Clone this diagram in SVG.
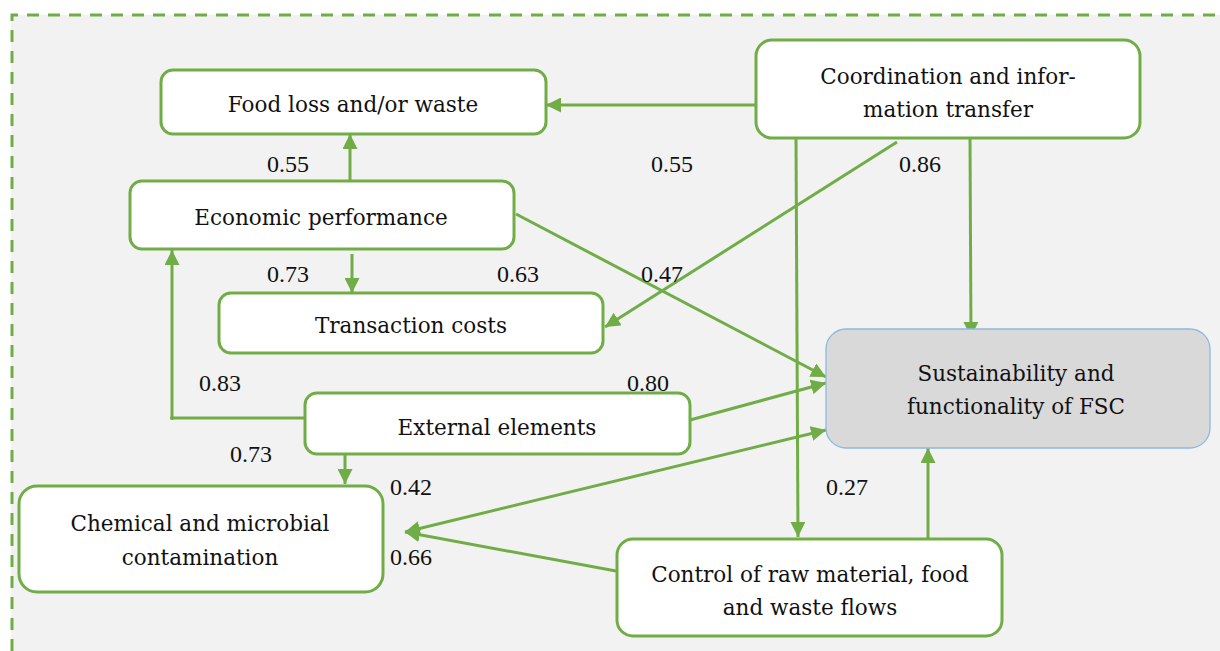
<svg xmlns="http://www.w3.org/2000/svg" width="1220" height="651" viewBox="0 0 1220 651">
<defs>
<marker id="ah" viewBox="0 0 10 10" refX="10" refY="5" markerWidth="15" markerHeight="15" markerUnits="userSpaceOnUse" orient="auto-start-reverse">
<path d="M0,0 L10,5 L0,10 z" fill="#70ad47"/>
</marker>
<style>
.box{fill:#ffffff;stroke:#70ad47;stroke-width:3}
.main{fill:#d9d9d9;stroke:#8fb8e0;stroke-width:1.3}
.t{font-size:21.5px;fill:#111;text-anchor:middle}
.n{font-size:24px;fill:#111;text-anchor:middle}
.c{fill:none;stroke:#70ad47;stroke-width:3}
.a{marker-end:url(#ah)}
</style>
</defs>
<rect x="11" y="15" width="1209" height="636" fill="#f2f2f2"/>
<path d="M12,651 L12,15 L1220,15" fill="none" stroke="#70ad47" stroke-width="3" stroke-dasharray="12 9"/>

<g id="connectors">
<path class="c a" d="M755,105 L546,105"/>
<path class="c a" d="M350,181 L350,134"/>
<path class="c a" d="M352,254 L352,293"/>
<path class="c a" d="M897,142 L605,327"/>
<path class="c a" d="M516,214 L826,377"/>
<path class="c a" d="M970,138 L971,337"/>
<path class="c a" d="M796,138 L798,537"/>
<path class="c a" d="M304,418 L172,418 L172,250"/>
<circle cx="172" cy="418" r="2" fill="#70ad47"/>
<path class="c a" d="M690,420 L826,383"/>
<path class="c a" d="M345,454 L345,484"/>
<path class="c a" d="M405,532 L826,430" marker-start="url(#ah)"/>
<path class="c a" d="M616,571 L405,532"/>
<path class="c a" d="M928,539 L928,448"/>
</g>

<g id="labels" font-family="'Liberation Serif', serif">
<text class="n" x="288" y="172">0.55</text>
<text class="n" x="672" y="172">0.55</text>
<text class="n" x="920" y="172">0.86</text>
<text class="n" x="288" y="282">0.73</text>
<text class="n" x="518" y="282">0.63</text>
<text class="n" x="662" y="282">0.47</text>
<text class="n" x="220" y="391">0.83</text>
<text class="n" x="648" y="391">0.80</text>
<text class="n" x="251" y="462">0.73</text>
<text class="n" x="411" y="495">0.42</text>
<text class="n" x="847" y="495">0.27</text>
<text class="n" x="411" y="565">0.66</text>
</g>

<g id="nodes" font-family="'DejaVu Serif', serif">
<g id="node-food">
<rect class="box" x="161" y="70" width="385" height="64" rx="12"/>
<text class="t" x="353" y="112">Food loss and/or waste</text>
</g>
<g id="node-coord">
<rect class="box" x="756" y="40" width="384" height="98" rx="16"/>
<text class="t" x="948" y="84">Coordination and infor-</text>
<text class="t" x="948" y="117">mation transfer</text>
</g>
<g id="node-econ">
<rect class="box" x="130" y="181" width="384" height="68" rx="12"/>
<text class="t" x="321" y="225">Economic performance</text>
</g>
<g id="node-trans">
<rect class="box" x="219" y="293" width="384" height="60" rx="12"/>
<text class="t" x="411" y="333">Transaction costs</text>
</g>
<g id="node-sust">
<rect class="main" x="826" y="329" width="384" height="119" rx="20"/>
<text class="t" x="1016" y="381">Sustainability and</text>
<text class="t" x="1016" y="414">functionality of FSC</text>
</g>
<g id="node-ext">
<rect class="box" x="305" y="393" width="385" height="61" rx="12"/>
<text class="t" x="497" y="435">External elements</text>
</g>
<g id="node-chem">
<rect class="box" x="19" y="486" width="364" height="106" rx="18"/>
<text class="t" x="200" y="531">Chemical and microbial</text>
<text class="t" x="200" y="565">contamination</text>
</g>
<g id="node-ctrl">
<rect class="box" x="617" y="539" width="385" height="97" rx="16"/>
<text class="t" x="810" y="582">Control of raw material, food</text>
<text class="t" x="810" y="615">and waste flows</text>
</g>
</g>
</svg>
